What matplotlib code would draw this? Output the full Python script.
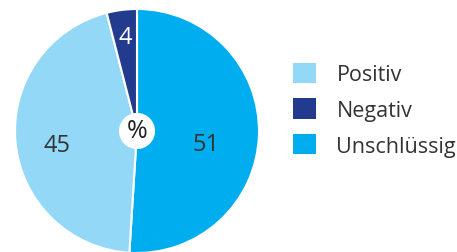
import matplotlib
matplotlib.use("Agg")
import matplotlib.pyplot as plt
from matplotlib.patches import Circle, Patch
import numpy as np

categories = ["Unschlüssig", "Positiv", "Negativ"]
values = [51, 45, 4]
colors = ["#00aeef", "#93d8f6", "#233b8f"]
legend_order = ["Positiv", "Negativ", "Unschlüssig"]
center_label = "%"

plt.rcParams['font.family'] = ['Open Sans', 'DejaVu Sans']

fig = plt.figure(figsize=(4.57, 2.53), dpi=100)
cx, cy, r = 137/457, 1 - 132/253, 122
ax = fig.add_axes([cx - r/457, cy - r/253, 2*r/457, 2*r/253])
wedges, _ = ax.pie(values, colors=colors, startangle=90, counterclock=False,
                   wedgeprops=dict(edgecolor="white", linewidth=1.5))
ax.set_xlim(-1, 1); ax.set_ylim(-1, 1); ax.set_aspect('equal'); ax.axis('off')

radii = [0.57, 0.66, 0.78]
yoff = [-0.09, -0.05, 0.0]
tcolors = ["#333333", "#333333", "white"]
for w, v, rr, dy, tc in zip(wedges, values, radii, yoff, tcolors):
    ang = np.deg2rad((w.theta1 + w.theta2) / 2)
    ax.text(rr*np.cos(ang), rr*np.sin(ang) + dy, str(v), ha='center', va='center',
            fontsize=17, color=tc)

ax.add_patch(Circle((0, 0), 0.148, facecolor='white', edgecolor='none', zorder=5))
ax.text(0, 0.005, center_label, ha='center', va='center', fontsize=18, color='#222222', zorder=6)

handles = [Patch(facecolor=colors[categories.index(c)]) for c in legend_order]
fig.legend(handles, legend_order, loc='center left', bbox_to_anchor=(0.641, 0.563),
           frameon=False, fontsize=15.5, handlelength=1.07, handleheight=1.07,
           handletextpad=0.95, labelspacing=0.62, labelcolor='#333333',
           borderpad=0, borderaxespad=0)

fig.savefig("out.png", dpi=100)
